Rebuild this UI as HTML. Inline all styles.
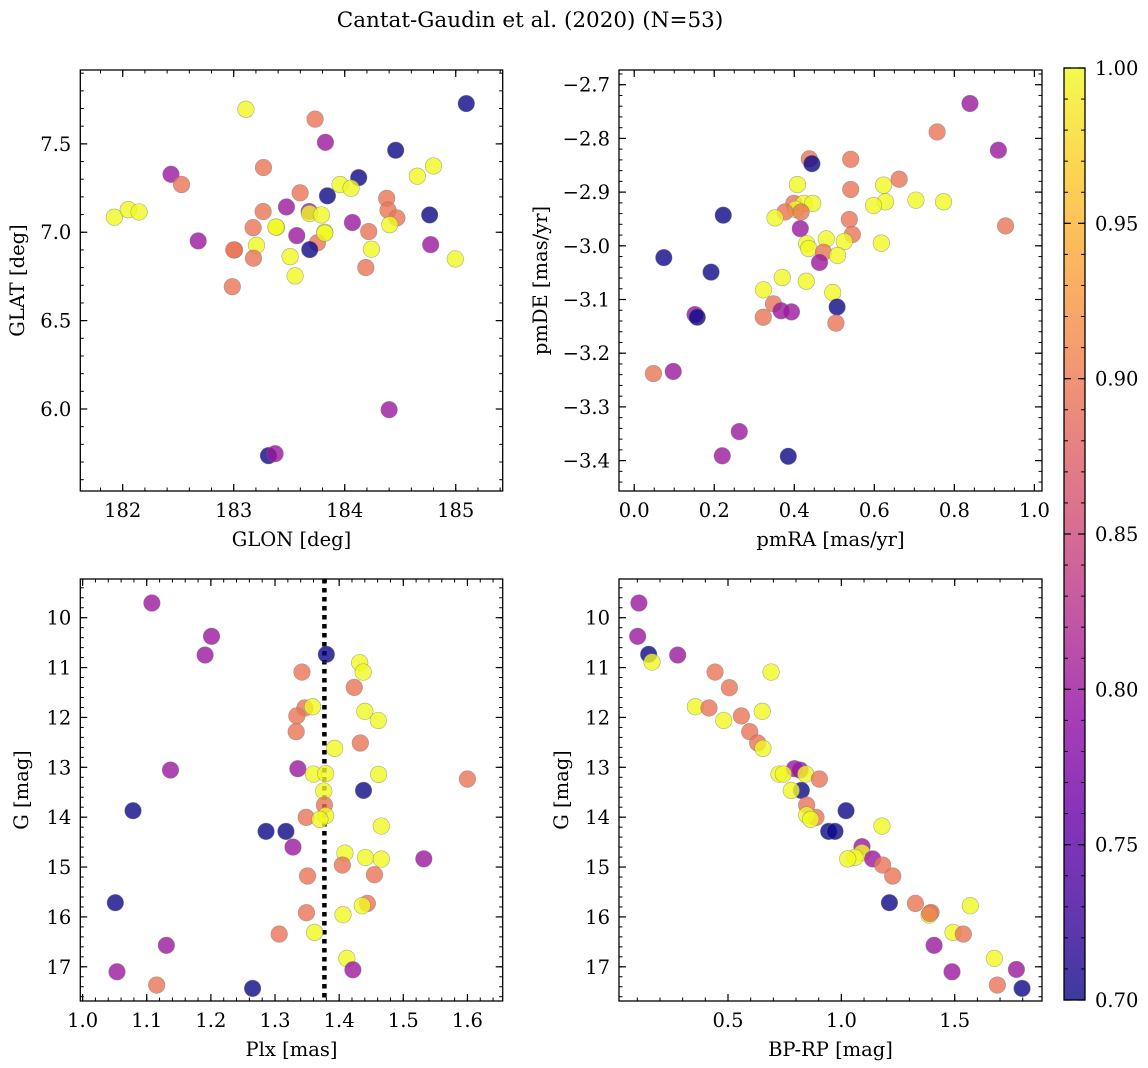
<!DOCTYPE html>
<html><head><meta charset="utf-8">
<style>
html,body{margin:0;padding:0;background:#fff;}
svg{display:block;font-family:"DejaVu Serif","Liberation Serif",serif;}
</style></head>
<body>
<svg id="fig" width="1148" height="1068" viewBox="0 0 1148 1068" xmlns="http://www.w3.org/2000/svg">
<text x="530" y="27" font-size="21.5" text-anchor="middle">Cantat-Gaudin et al. (2020) (N=53)</text>
<defs>
<linearGradient id="cbgrad" x1="0" y1="1" x2="0" y2="0">
<stop offset="0" stop-color="#0d0887"/><stop offset="0.1" stop-color="#41049d"/><stop offset="0.2" stop-color="#6a00a8"/><stop offset="0.3" stop-color="#8f0da4"/><stop offset="0.4" stop-color="#b12a90"/><stop offset="0.5" stop-color="#cc4778"/><stop offset="0.6" stop-color="#e16462"/><stop offset="0.7" stop-color="#f2844b"/><stop offset="0.8" stop-color="#fca636"/><stop offset="0.9" stop-color="#fcce25"/><stop offset="1" stop-color="#f0f921"/>
</linearGradient>
</defs>
<g id="cb">
<rect x="1064" y="68" width="21" height="932" fill="url(#cbgrad)" opacity="0.8"/>
<rect x="1064" y="68" width="21" height="932" fill="none" stroke="#000" stroke-width="1.3"/>
</g>
</svg>
<script>
// ---- data ----
const colorVals = {B:0.70, P:0.80, O:0.895, Y:1.0};
const p1Lon = [181.925,182.05,182.147,182.435,182.53,182.68,183.11,183.733,183.826,184.459,185.095,183.268,184.8,184.654,184.126,183.958,184.057,183.598,183.844,184.378,183.475,183.265,183.68,183.683,183.79,184.39,184.47,184.765,184.069,184.405,183.175,183.385,184.216,183.82,183.568,183.754,183.205,183.008,183.685,184.24,184.774,183.178,183.508,184.996,184.19,183.553,182.987,184.4,183.313,183.373,183.0,183.38,183.82];
const p1Lat = [7.085,7.128,7.115,7.328,7.27,6.951,7.696,7.64,7.509,7.464,7.728,7.366,7.375,7.317,7.309,7.27,7.249,7.223,7.206,7.192,7.143,7.117,7.117,7.106,7.098,7.125,7.081,7.098,7.055,7.043,7.026,7.028,7.004,7.0,6.981,6.94,6.926,6.9,6.902,6.904,6.93,6.853,6.862,6.849,6.8,6.753,6.692,5.996,5.736,5.747,6.9,7.03,6.995];
const p1Cls = ["Y","Y","Y","P","O","P","Y","O","P","B","B","O","Y","Y","B","Y","Y","O","B","O","P","O","P","Y","Y","O","O","B","P","Y","O","Y","O","Y","P","O","Y","O","B","Y","P","O","Y","Y","O","Y","O","P","B","P","O","Y","Y"];

const p2RA = [0.839,0.757,0.91,0.4375,0.444,0.541,0.662,0.408,0.623,0.541,0.399,0.424,0.446,0.628,0.704,0.773,0.598,0.403,0.417,0.377,0.2225,0.352,0.5375,0.928,0.415,0.545,0.48,0.525,0.431,0.6175,0.436,0.473,0.508,0.074,0.463,0.192,0.37,0.43,0.323,0.496,0.507,0.348,0.367,0.393,0.152,0.1575,0.3225,0.504,0.048,0.0975,0.2625,0.22,0.385];
const p2DE = [-2.735,-2.788,-2.822,-2.838,-2.847,-2.839,-2.876,-2.886,-2.887,-2.895,-2.921,-2.921,-2.921,-2.918,-2.915,-2.918,-2.925,-2.932,-2.937,-2.937,-2.943,-2.948,-2.951,-2.963,-2.968,-2.979,-2.987,-2.992,-2.996,-2.995,-3.005,-3.012,-3.018,-3.022,-3.031,-3.049,-3.059,-3.066,-3.082,-3.087,-3.114,-3.108,-3.121,-3.123,-3.128,-3.133,-3.133,-3.144,-3.238,-3.234,-3.346,-3.391,-3.392];
const p2Cls = ["P","O","P","O","B","O","O","Y","Y","O","O","Y","Y","Y","Y","Y","Y","Y","O","O","B","Y","O","O","P","O","Y","Y","Y","Y","Y","O","Y","B","P","B","Y","Y","Y","Y","B","O","P","P","P","B","O","O","O","P","P","P","B"];

const p3Plx = [1.108,1.201,1.191,1.38,1.432,1.4375,1.342,1.4235,1.3465,1.3585,1.334,1.44,1.461,1.333,1.433,1.393,1.137,1.3356,1.36,1.379,1.4615,1.6,1.438,1.376,1.377,1.0786,1.3486,1.379,1.37,1.4657,1.286,1.317,1.328,1.409,1.441,1.4657,1.532,1.405,1.3507,1.455,1.051,1.444,1.436,1.349,1.406,1.3065,1.3616,1.1306,1.412,1.4214,1.0536,1.1155,1.265];
const p3G = [9.706,10.374,10.749,10.735,10.902,11.09,11.09,11.397,11.81,11.785,11.97,11.878,12.06,12.286,12.513,12.62,13.055,13.028,13.135,13.128,13.142,13.235,13.463,13.476,13.757,13.87,14.004,13.97,14.044,14.178,14.285,14.285,14.6,14.72,14.807,14.84,14.836,14.96,15.18,15.154,15.715,15.729,15.775,15.916,15.956,16.344,16.31,16.57,16.832,17.06,17.1,17.366,17.433];
const p3Cls = ["P","P","P","B","Y","Y","O","O","O","Y","O","Y","Y","O","O","Y","P","P","Y","Y","Y","O","B","Y","O","B","O","Y","Y","Y","B","B","P","Y","Y","Y","P","O","O","O","B","O","Y","O","Y","O","Y","P","Y","P","P","O","B"];

const p4BR = [0.107,0.1015,0.15,0.1647,0.278,0.443,0.69,0.506,0.356,0.416,0.559,0.651,0.481,0.5956,0.631,0.654,0.793,0.818,0.725,0.744,0.843,0.903,0.8235,0.779,0.847,1.0206,0.888,0.847,0.8647,1.179,0.944,0.972,1.091,1.091,1.06,1.028,1.138,1.182,1.2265,1.3265,1.212,1.3956,1.387,1.569,1.4926,1.538,1.409,1.675,1.488,1.772,1.688,1.797,1.39];
const p4G = [9.706,10.374,10.735,10.889,10.749,11.09,11.09,11.404,11.785,11.81,11.97,11.878,12.06,12.286,12.513,12.62,13.028,13.055,13.135,13.135,13.135,13.235,13.463,13.463,13.757,13.87,14.004,13.957,14.044,14.178,14.285,14.285,14.592,14.713,14.807,14.836,14.836,14.96,15.18,15.729,15.715,15.91,15.963,15.775,16.31,16.344,16.57,16.832,17.1,17.053,17.366,17.433,15.93];
const p4Cls = ["P","P","B","Y","P","O","Y","O","Y","O","O","Y","Y","O","O","Y","P","P","Y","Y","Y","O","B","Y","O","B","O","Y","Y","Y","B","B","P","Y","Y","Y","P","O","O","O","B","O","Y","Y","Y","O","P","Y","P","P","O","B","O"];

const cbTicks = [0.70,0.75,0.80,0.85,0.90,0.95,1.00];
const plxLine = 1.377;

// ---- helpers ----
const NS = "http://www.w3.org/2000/svg";
const svg = document.getElementById("fig");
const plasma = ["#0d0887","#41049d","#6a00a8","#8f0da4","#b12a90","#cc4778","#e16462","#f2844b","#fca636","#fcce25","#f0f921"];
function hex(h){return [parseInt(h.substr(1,2),16),parseInt(h.substr(3,2),16),parseInt(h.substr(5,2),16)];}
function cmap(v){
  let t=(v-0.70)/0.30; t=Math.max(0,Math.min(1,t));
  const f=t*10, i=Math.min(9,Math.floor(f)), r=f-i;
  const a=hex(plasma[i]), b=hex(plasma[i+1]);
  return "rgb("+a.map((c,k)=>Math.round(c+(b[k]-c)*r)).join(",")+")";
}
function mk(tag,attrs,parent){const e=document.createElementNS(NS,tag);for(const k in attrs)e.setAttribute(k,attrs[k]);(parent||svg).appendChild(e);return e;}
function fmt(v,d){return (v<0?"\u2212":"")+Math.abs(v).toFixed(d);}
const FS=19.5;

function panel(cfg){
  const g=mk("g",{});
  
  
  const {L,R,T,B}=cfg;
  const sx=v=>L+(v-cfg.x0)/(cfg.x1-cfg.x0)*(R-L);
  const sy=cfg.yinv ? (v=>T+(v-cfg.y0)/(cfg.y1-cfg.y0)*(B-T)) : (v=>B-(v-cfg.y0)/(cfg.y1-cfg.y0)*(B-T));
  const xa=Math.min(cfg.x0,cfg.x1), xb=Math.max(cfg.x0,cfg.x1);
  const ya=Math.min(cfg.y0,cfg.y1), yb=Math.max(cfg.y0,cfg.y1);
  for(let k=Math.ceil(xa/cfg.xmin-1e-6);k*cfg.xmin<=xb+1e-9;k++){
    const x=sx(k*cfg.xmin);
    mk("line",{x1:x,x2:x,y1:B,y2:B-3.5,stroke:"#000","stroke-width":1},g);
    mk("line",{x1:x,x2:x,y1:T,y2:T+3.5,stroke:"#000","stroke-width":1},g);
  }
  for(let k=Math.ceil(ya/cfg.ymin-1e-6);k*cfg.ymin<=yb+1e-9;k++){
    const y=sy(k*cfg.ymin);
    mk("line",{x1:L,x2:L+3.5,y1:y,y2:y,stroke:"#000","stroke-width":1},g);
    mk("line",{x1:R,x2:R-3.5,y1:y,y2:y,stroke:"#000","stroke-width":1},g);
  }
  cfg.xt.forEach(v=>{
    const x=sx(v);
    mk("line",{x1:x,x2:x,y1:B,y2:B-7,stroke:"#000","stroke-width":1.2},g);
    mk("line",{x1:x,x2:x,y1:T,y2:T+7,stroke:"#000","stroke-width":1.2},g);
    const t=mk("text",{x:x,y:B+26,"font-size":FS,"text-anchor":"middle"},g);
    
    
    t.textContent=fmt(v,cfg.xd);
  });
  cfg.yt.forEach(v=>{
    const y=sy(v);
    mk("line",{x1:L,x2:L+7,y1:y,y2:y,stroke:"#000","stroke-width":1.2},g);
    mk("line",{x1:R,x2:R-7,y1:y,y2:y,stroke:"#000","stroke-width":1.2},g);
    const t=mk("text",{x:L-9,y:y+7,"font-size":FS,"text-anchor":"end"},g);
    
    
    t.textContent=fmt(v,cfg.yd);
  });
  if(cfg.vline!==undefined){
    const x=sx(cfg.vline);
    const l=mk("line",{x1:x,x2:x,y1:T,y2:B,stroke:"#000","stroke-width":4.5,"stroke-dasharray":"4.5 4.5"},g);
    
    
  }
  for(let i=0;i<cfg.xs.length;i++){
    const c=mk("circle",{cx:sx(cfg.xs[i]),cy:sy(cfg.ys[i]),r:8.3,fill:cmap(colorVals[cfg.cls[i]]),"fill-opacity":0.8,stroke:"#777","stroke-opacity":0.6,"stroke-width":0.6},g);
    
    
  }
  mk("rect",{x:L,y:T,width:R-L,height:B-T,fill:"none",stroke:"#000","stroke-width":1.3},g);
  const xl=mk("text",{x:(L+R)/2,y:B+55,"font-size":FS,"text-anchor":"middle"},g);
  
  
  xl.textContent=cfg.xlab;
  const yx=cfg.ylx, yc=(T+B)/2;
  const yl=mk("text",{x:yx,y:yc,"font-size":FS,"text-anchor":"middle",transform:"rotate(-90 "+yx+" "+yc+")"},g);
  
  
  yl.textContent=cfg.ylab;
}

panel({name:"panel-glon-glat",L:80.3,R:502.7,T:70,B:491,x0:181.618,x1:185.423,y0:5.536,y1:7.918,
  xt:[182,183,184,185],yt:[6.0,6.5,7.0,7.5],xd:0,yd:1,xmin:0.2,ymin:0.1,
  xs:p1Lon,ys:p1Lat,cls:p1Cls,xlab:"GLON [deg]",ylab:"GLAT [deg]",ylx:24});
panel({name:"panel-pmra-pmde",L:619,R:1042,T:70,B:491,x0:-0.038,x1:1.019,y0:-3.4566,y1:-2.6726,
  xt:[0,0.2,0.4,0.6,0.8,1.0],yt:[-3.4,-3.3,-3.2,-3.1,-3.0,-2.9,-2.8,-2.7],xd:1,yd:1,xmin:0.05,ymin:0.02,
  xs:p2RA,ys:p2DE,cls:p2Cls,xlab:"pmRA [mas/yr]",ylab:"pmDE [mas/yr]",ylx:547});
panel({name:"panel-plx-g",L:80.3,R:502.7,T:579,B:1001,x0:0.9964,x1:1.655,y0:9.224,y1:17.686,yinv:true,
  xt:[1.0,1.1,1.2,1.3,1.4,1.5,1.6],yt:[10,11,12,13,14,15,16,17],xd:1,yd:0,xmin:0.02,ymin:0.2,
  xs:p3Plx,ys:p3G,cls:p3Cls,xlab:"Plx [mas]",ylab:"G [mag]",ylx:28,vline:plxLine});
panel({name:"panel-bprp-g",L:619,R:1042,T:579,B:1001,x0:0.0192,x1:1.885,y0:9.224,y1:17.686,yinv:true,
  xt:[0.5,1.0,1.5],yt:[10,11,12,13,14,15,16,17],xd:1,yd:0,xmin:0.1,ymin:0.2,
  xs:p4BR,ys:p4G,cls:p4Cls,xlab:"BP-RP [mag]",ylab:"G [mag]",ylx:568});

// colorbar ticks
const cb=document.getElementById("cb");
const cy=v=>1000-(v-0.70)/0.30*932;
for(let v=0.70;v<=1.0001;v+=0.01){
  const y=cy(v);
  mk("line",{x1:1085,x2:1081,y1:y,y2:y,stroke:"#000","stroke-width":1},cb);
  mk("line",{x1:1064,x2:1068,y1:y,y2:y,stroke:"#000","stroke-width":1},cb);
}
cbTicks.forEach(v=>{
  const y=cy(v);
  mk("line",{x1:1085,x2:1078,y1:y,y2:y,stroke:"#000","stroke-width":1.2},cb);
  mk("line",{x1:1064,x2:1071,y1:y,y2:y,stroke:"#000","stroke-width":1.2},cb);
  const t=mk("text",{x:1095,y:y+7,"font-size":FS},cb);
  
  
  t.textContent=v.toFixed(2);
});
</script>
</body></html>
